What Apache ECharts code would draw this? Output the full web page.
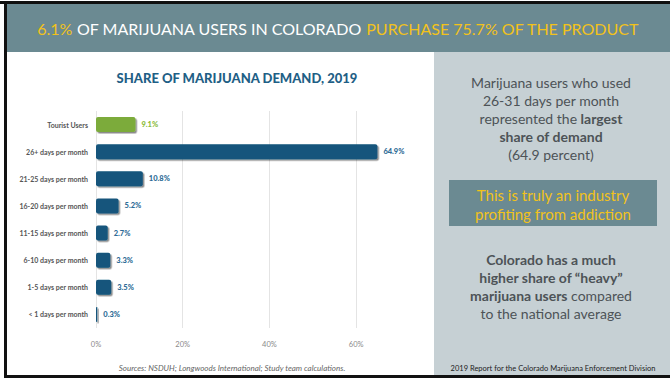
<!DOCTYPE html>
<html>
<head>
    <meta charset="UTF-8">
    <title>Share of marijuana demand</title>
    <script type="text/javascript" src="https://cdn.jsdelivr.net/npm/echarts@6/dist/echarts.min.js"></script>
</head>
<body style="margin: 0; background: #fff">
<div id="container" style="width: 670px; height: 381px"></div>
<script type="text/javascript">
    // data
    const categories = ['Tourist Users', '26+ days per month', '21-25 days per month', '16-20 days per month',
        '11-15 days per month', '6-10 days per month', '1-5 days per month', '< 1 days per month'];
    const shares = [9.1, 64.9, 10.8, 5.2, 2.7, 3.3, 3.5, 0.3];
    const xTicks = [0, 20, 40, 60];

    const font = 'Lato, "Open Sans", sans-serif';
    const green = '#7bab3b';
    const blue = '#15557b';
    const yellow = '#f2c21b';
    const grey = '#4d5357';

    const chart = echarts.init(document.getElementById('container'), null, {renderer: 'svg'});

    const option = {
        animation: false,
        textStyle: {fontFamily: font},
        grid: {left: 96, top: 111, width: 303.5, height: 217},
        title: {
            text: 'SHARE OF MARIJUANA DEMAND, 2019',
            left: 232,
            top: 66,
            textAlign: 'center',
            textStyle: {fontFamily: font, fontSize: 13, fontWeight: 900, color: '#1f5f86'}
        },
        xAxis: {
            type: 'value',
            min: 0,
            max: 70,
            interval: 20,
            axisLine: {show: false},
            axisTick: {show: false},
            axisLabel: {
                fontSize: 7.5,
                color: '#8a8a8a',
                margin: 12,
                formatter: v => xTicks.indexOf(v) >= 0 ? v + '%' : ''
            },
            splitLine: {
                lineStyle: {color: ['#e4e4e4', '#e4e4e4', '#e4e4e4', '#e4e4e4', 'rgba(0,0,0,0)'], width: 1}
            }
        },
        yAxis: {
            type: 'category',
            data: categories,
            inverse: true,
            axisLine: {show: false},
            axisTick: {show: false},
            axisLabel: {fontSize: 7, color: '#555', margin: 8, fontWeight: 'bold'}
        },
        series: [{
            type: 'bar',
            data: shares.map((v, i) => i === 0 ? {value: v, label: {color: '#8cbc3c'}} : v),
            barWidth: 15,
            itemStyle: {
                color: p => p.dataIndex === 0 ? green : blue,
                borderRadius: 2,
                shadowColor: 'rgba(0,0,0,0.45)',
                shadowOffsetX: 1.5,
                shadowOffsetY: 1.5,
                shadowBlur: 0
            },
            label: {
                show: true,
                position: 'right',
                distance: 6,
                fontSize: 7.5,
                fontWeight: 900,
                formatter: p => p.value + '%',
                color: '#2e6c96'
            }
        }],
        graphic: [
            // frame and panels
            {type: 'rect', shape: {x: 0, y: 1, width: 670, height: 3}, style: {fill: '#111'}, z: 1},
            {type: 'rect', shape: {x: 4, y: 1, width: 3, height: 377}, style: {fill: '#111'}, z: 1},
            {type: 'rect', shape: {x: 4, y: 375, width: 666, height: 3}, style: {fill: '#111'}, z: 1},
            {type: 'rect', shape: {x: 7, y: 4, width: 663, height: 48}, style: {fill: '#6b8a92'}, z: 0},
            {type: 'rect', shape: {x: 434, y: 52, width: 236, height: 323}, style: {fill: '#c6d0d4'}, z: 0},
            {type: 'rect', shape: {x: 449, y: 180, width: 208, height: 46}, style: {fill: '#6b8a92'}, z: 0},
            {
                type: 'text', x: 338, y: 28, z: 2,
                style: {
                    text: '{y|6.1%}{w| OF MARIJUANA USERS IN COLORADO }{y|PURCHASE 75.7% OF THE PRODUCT}',
                    align: 'center', verticalAlign: 'middle',
                    rich: {
                        y: {fontFamily: font, fontSize: 16, fill: yellow},
                        w: {fontFamily: font, fontSize: 16, fill: '#ffffff'}
                    }
                }
            },
            {
                type: 'text', x: 551, y: 118, z: 2,
                style: {
                    text: '{n|Marijuana users who used}\n{n|26-31 days per month}\n{n|represented the }{b|largest}\n{b|share of demand}\n{n|(64.9 percent)}',
                    align: 'center', verticalAlign: 'middle',
                    rich: {
                        n: {fontFamily: font, fontSize: 14, fill: grey, lineHeight: 18},
                        b: {fontFamily: font, fontSize: 14, fontWeight: 'bold', fill: grey, lineHeight: 18}
                    }
                }
            },
            {
                type: 'text', x: 553, y: 204, z: 2,
                style: {
                    text: 'This is truly an industry\nprofiting from addiction',
                    align: 'center', verticalAlign: 'middle',
                    fontFamily: font, fontSize: 15, lineHeight: 19, fill: yellow
                }
            },
            {
                type: 'text', x: 551, y: 286, z: 2,
                style: {
                    text: '{b|Colorado has a much}\n{b|higher share of \u201cheavy\u201d}\n{b|marijuana users}{n| compared}\n{n|to the national average}',
                    align: 'center', verticalAlign: 'middle',
                    rich: {
                        n: {fontFamily: font, fontSize: 14, fill: grey, lineHeight: 18},
                        b: {fontFamily: font, fontSize: 14, fontWeight: 'bold', fill: grey, lineHeight: 18}
                    }
                }
            },
            {
                type: 'text', x: 553, y: 368, z: 2,
                style: {
                    text: '2019 Report for the Colorado Marijuana Enforcement Division',
                    align: 'center', verticalAlign: 'middle',
                    fontFamily: font, fontSize: 7.5, fill: '#222'
                }
            },
            {
                type: 'text', x: 232, y: 368, z: 2,
                style: {
                    text: 'Sources: NSDUH; Longwoods International; Study team calculations.',
                    align: 'center', verticalAlign: 'middle',
                    fontFamily: font, fontSize: 8, fontStyle: 'italic', fill: '#666'
                }
            }
        ]
    };

    chart.setOption(option);
</script>
</body>
</html>
